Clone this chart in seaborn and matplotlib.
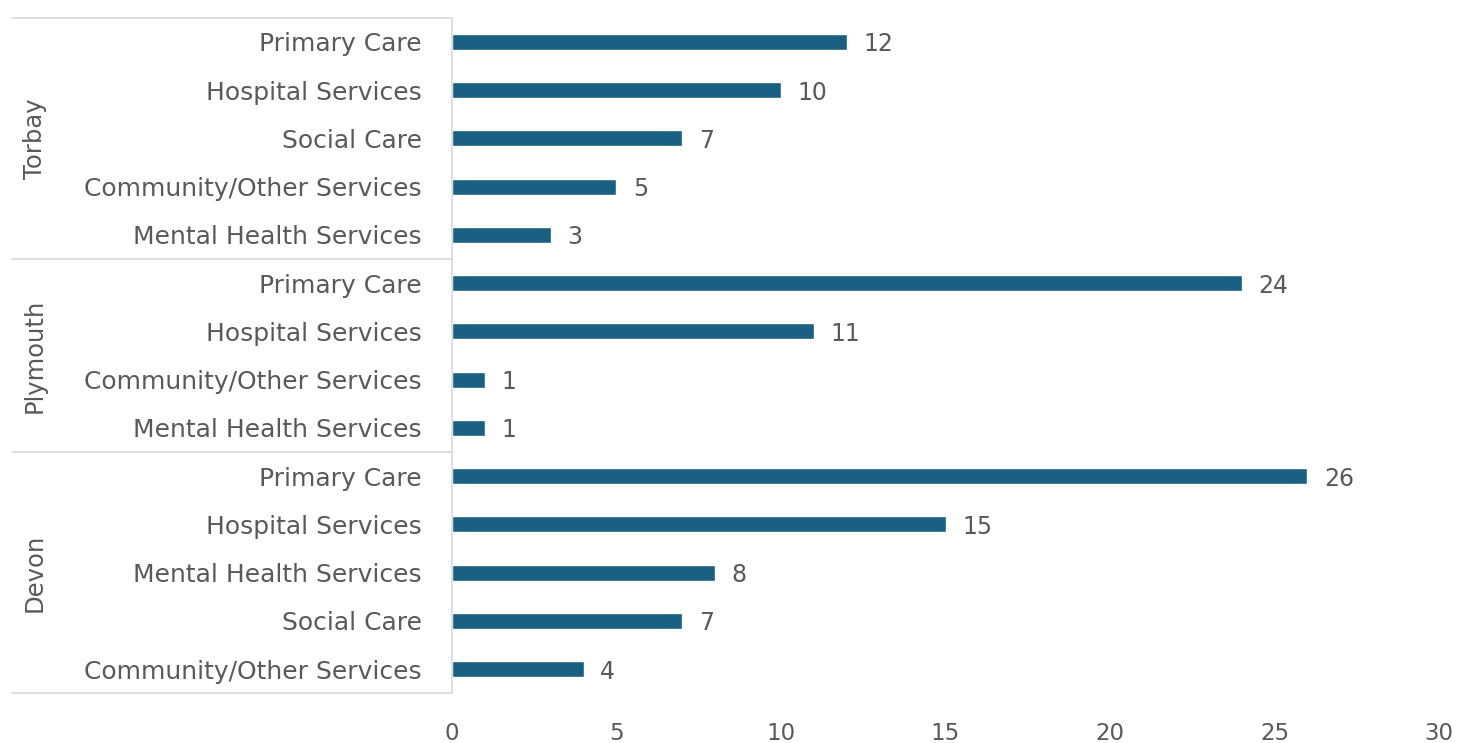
import matplotlib
matplotlib.use("Agg")
import matplotlib.pyplot as plt
import matplotlib.transforms as mtransforms
import seaborn as sns
import pandas as pd

groups = ["Torbay", "Plymouth", "Devon"]
torbay_services = ["Primary Care", "Hospital Services", "Social Care",
                   "Community/Other Services", "Mental Health Services"]
torbay_values = [12, 10, 7, 5, 3]
plymouth_services = ["Primary Care", "Hospital Services",
                     "Community/Other Services", "Mental Health Services"]
plymouth_values = [24, 11, 1, 1]
devon_services = ["Primary Care", "Hospital Services", "Mental Health Services",
                  "Social Care", "Community/Other Services"]
devon_values = [26, 15, 8, 7, 4]
x_ticks = [0, 5, 10, 15, 20, 25, 30]

rows = []
for g, svcs, vals in zip(groups,
                         [torbay_services, plymouth_services, devon_services],
                         [torbay_values, plymouth_values, devon_values]):
    for s, v in zip(svcs, vals):
        rows.append({"group": g, "service": s, "key": f"{g}|{s}", "value": v})
df = pd.DataFrame(rows)

sns.set_theme(style="white")
plt.rcParams["font.family"] = ["DejaVu Sans"]

text_color = "#595959"
bar_color = "#1a6082"
line_color = "#d9d9d9"
fs = 18

fig = plt.figure(figsize=(14.58, 7.43), dpi=100)
ax = fig.add_axes([0.31, 0.067, 0.677, 0.909])

sns.barplot(data=df, x="value", y="key", order=list(df["key"]), orient="h",
            color=bar_color, width=0.33, saturation=1, ax=ax)

ax.set_xlim(0, 30)
ax.set_ylim(len(df) - 0.5, -0.5)
ax.set_xticks(x_ticks)
ax.set_xticklabels([str(t) for t in x_ticks], fontsize=fs - 1.5, color=text_color)
ax.set_yticks(range(len(df)))
ax.set_yticklabels(df["service"], fontsize=fs, color=text_color)
ax.tick_params(axis="y", length=0, pad=21.5)
ax.tick_params(axis="x", length=0, pad=21)
ax.set_xlabel("")
ax.set_ylabel("")
for side in ["top", "right", "bottom"]:
    ax.spines[side].set_visible(False)
ax.spines["left"].set_color(line_color)
ax.spines["left"].set_linewidth(1.2)

for c in ax.containers:
    labels = ax.bar_label(c, padding=12, fontsize=fs - 1, color=text_color)
    for t in labels:
        t.set_va("center_baseline")

# group separators and labels
trans = mtransforms.blended_transform_factory(ax.transAxes, ax.transData)
boundaries = [-0.5]
pos = -0.5
for g in groups:
    n = (df["group"] == g).sum()
    pos += n
    boundaries.append(pos)
for b in boundaries:
    ax.plot([-0.446, 0], [b, b], transform=trans, color=line_color,
            lw=1.2, clip_on=False)
for i, g in enumerate(groups):
    center = (boundaries[i] + boundaries[i + 1]) / 2
    ax.text(-0.4225, center, g, transform=trans, rotation=90,
            ha="center", va="center", fontsize=fs - 0.5, color=text_color)

fig.savefig("out.png", dpi=100, facecolor="white")
